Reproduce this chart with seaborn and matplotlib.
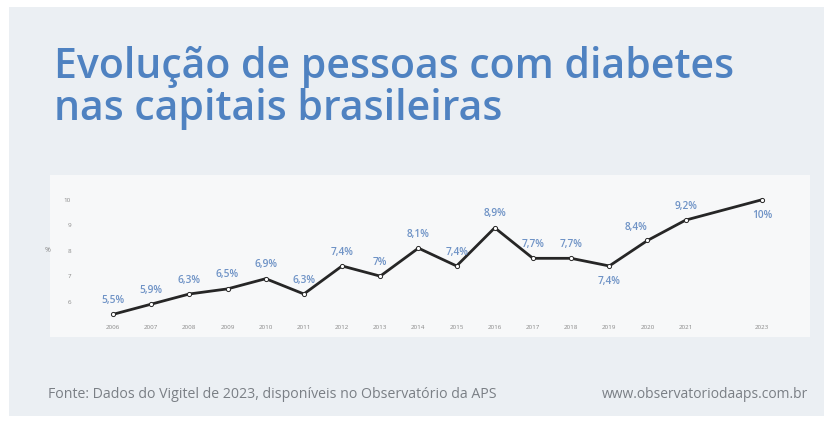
import matplotlib
matplotlib.use("Agg")
import matplotlib.pyplot as plt
import seaborn as sns
import pandas as pd
from matplotlib.patches import Rectangle

# ---- data ----
years = [2006, 2007, 2008, 2009, 2010, 2011, 2012, 2013, 2014, 2015,
         2016, 2017, 2018, 2019, 2020, 2021, 2023]
values = [5.5, 5.9, 6.3, 6.5, 6.9, 6.3, 7.4, 7.0, 8.1, 7.4,
          8.9, 7.7, 7.7, 7.4, 8.4, 9.2, 10.0]
labels = ["5,5%", "5,9%", "6,3%", "6,5%", "6,9%", "6,3%", "7,4%", "7%", "8,1%", "7,4%",
          "8,9%", "7,7%", "7,7%", "7,4%", "8,4%", "9,2%", "10%"]
y_ticks = [6, 7, 8, 9, 10]
title = "Evolução de pessoas com diabetes\nnas capitais brasileiras"
source = "Fonte: Dados do Vigitel de 2023, disponíveis no Observatório da APS"
site = "www.observatoriodaaps.com.br"

# label offsets in points (styling)
offsets = {2019: (0, -11), 2023: (0, -11), 2020: (-8, 9)}
default_offset = (0, 10)

df = pd.DataFrame({"ano": years, "valor": values})

sns.set_theme(style="white")
plt.rcParams['font.family'] = ['Open Sans', 'DejaVu Sans']

W, H = 837, 421
fig = plt.figure(figsize=(W / 100, H / 100), dpi=100)
fig.patch.set_facecolor("white")

def px(x0, y0, x1, y1):
    return (x0 / W, 1 - y1 / H, (x1 - x0) / W, (y1 - y0) / H)

# card background
cx, cy, cw, ch = px(9, 7, 824, 416)
fig.patches.append(Rectangle((cx, cy), cw, ch, transform=fig.transFigure,
                             facecolor="#ebeff3", edgecolor="none", zorder=-2))
# chart panel
pxx, pyy, pw, ph = px(50, 175, 810, 337)
fig.patches.append(Rectangle((pxx, pyy), pw, ph, transform=fig.transFigure,
                             facecolor="#f7f8f9", edgecolor="none", zorder=-1))

fig.text(54 / W, 1 - 46 / H, title, color="#4f82c1", fontsize=29.5,
         fontweight="semibold", ha="left", va="top", linespacing=1.0)

fig.text(48 / W, 1 - 395 / H, source, color="#7a7f85", fontsize=10.2,
         ha="left", va="center")
fig.text(808 / W, 1 - 395 / H, site, color="#7a7f85", fontsize=10,
         ha="right", va="center")

ax = fig.add_axes(px(86.3, 187, 788.7, 322))
ax.set_facecolor("none")
sns.lineplot(data=df, x="ano", y="valor", ax=ax, color="#262626", linewidth=2.0,
             marker="o", markersize=3, markerfacecolor="white",
             markeredgecolor="#262626", markeredgewidth=0.7)

for yr, v, lab in zip(years, values, labels):
    dx, dy = offsets.get(yr, default_offset)
    ax.annotate(lab, (yr, v), xytext=(dx, dy), textcoords="offset points",
                ha="center", va="center", fontsize=7.3, color="#6f93c6",
                fontweight="semibold")

ax.set_xlim(2005.3, 2023.7)
ax.set_ylim(5.2, 10.5)
ax.set_xticks(years)
ax.set_xticklabels([str(y) for y in years], fontsize=4.5, color="#888888")
ax.set_yticks(y_ticks)
ax.set_yticklabels([str(t) for t in y_ticks], fontsize=4.5, color="#888888")
ax.tick_params(axis="y", length=0, pad=11)
ax.tick_params(axis="x", length=0, pad=2)
ax.set_xlabel("")
ax.set_ylabel("%", fontsize=5, color="#888888", rotation=0)
ax.yaxis.set_label_coords(-0.055, 0.5)
for s in ax.spines.values():
    s.set_visible(False)
ax.grid(False)

fig.savefig("out.png", dpi=100)
